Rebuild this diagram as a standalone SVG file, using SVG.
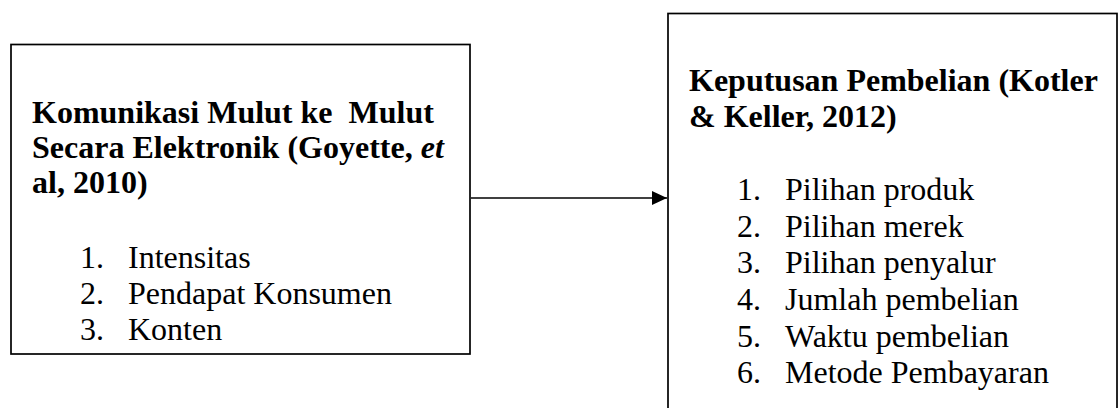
<svg xmlns="http://www.w3.org/2000/svg" width="1119" height="408" viewBox="0 0 1119 408">
<style>
.box{fill:#fff;stroke:#000;stroke-width:1.7}
.h{font-family:"Liberation Serif","Times New Roman",serif;font-size:32px;font-weight:bold;fill:#000;white-space:pre}
.t{font-family:"Liberation Serif","Times New Roman",serif;font-size:32px;fill:#000}
.conn{stroke:#000;stroke-width:1.7;fill:none}
</style>
<defs>
<marker id="arr" markerWidth="15" markerHeight="14" refX="15" refY="7" orient="auto" markerUnits="userSpaceOnUse" viewBox="0 0 15 14">
<path d="M0,0 L15,7 L0,14 Z" fill="#000"/>
</marker>
</defs>
<rect width="1119" height="408" fill="#fff"/>
<g id="node-ewom">
<rect class="box" x="11" y="44.5" width="459" height="309.5"/>
<text class="h" x="32" y="123" xml:space="preserve">Komunikasi Mulut ke  Mulut</text>
<text class="h" x="32" y="158">Secara Elektronik (Goyette, <tspan font-style="italic">et</tspan></text>
<text class="h" x="32" y="193">al, 2010)</text>
<text class="t" x="80" y="268">1.</text><text class="t" x="128" y="268">Intensitas</text>
<text class="t" x="80" y="304">2.</text><text class="t" x="128" y="304">Pendapat Konsumen</text>
<text class="t" x="80" y="340">3.</text><text class="t" x="128" y="340">Konten</text>
</g>
<g id="node-keputusan">
<rect class="box" x="668" y="13.5" width="449" height="420"/>
<text class="h" x="689" y="91">Keputusan Pembelian (Kotler</text>
<text class="h" x="689" y="127">&amp; Keller, 2012)</text>
<text class="t" x="737" y="200">1.</text><text class="t" x="785" y="200">Pilihan produk</text>
<text class="t" x="737" y="237">2.</text><text class="t" x="785" y="237">Pilihan merek</text>
<text class="t" x="737" y="273">3.</text><text class="t" x="785" y="273">Pilihan penyalur</text>
<text class="t" x="737" y="310">4.</text><text class="t" x="785" y="310">Jumlah pembelian</text>
<text class="t" x="737" y="347">5.</text><text class="t" x="785" y="347">Waktu pembelian</text>
<text class="t" x="737" y="383">6.</text><text class="t" x="785" y="383">Metode Pembayaran</text>
</g>
<g id="connectors">
<line class="conn" x1="471" y1="198" x2="667" y2="198" marker-end="url(#arr)"/>
</g>
</svg>
